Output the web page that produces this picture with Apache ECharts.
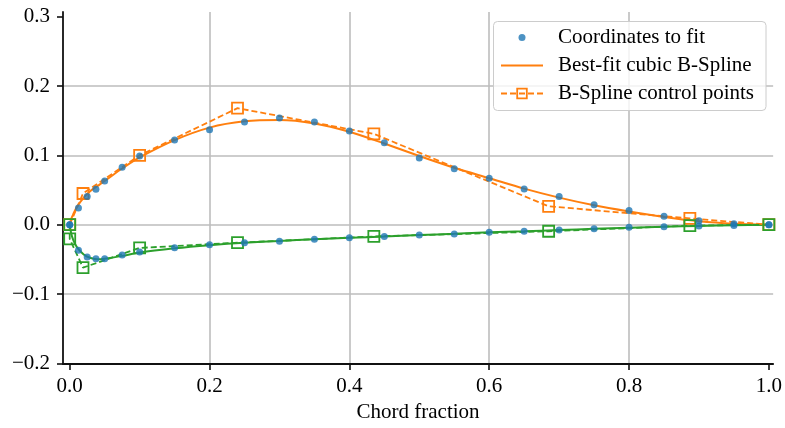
<!DOCTYPE html>
<html>
<head>
<meta charset="utf-8">
<script src="https://cdn.jsdelivr.net/npm/echarts@6/dist/echarts.min.js"></script>
<style>
  html, body { margin: 0; padding: 0; background: #ffffff; }
  #chart { width: 785px; height: 428px; }
</style>
</head>
<body>
<div id="chart"></div>
<script>
// Airfoil coordinates to fit (upper and lower surfaces share x stations)
const coordX = [0, 0.0125, 0.025, 0.0375, 0.05, 0.075, 0.1, 0.15, 0.2, 0.25, 0.3, 0.35, 0.4, 0.45, 0.5, 0.55, 0.6, 0.65, 0.7, 0.75, 0.8, 0.85, 0.9, 0.95, 1.0];
const coordUpperY = [0, 0.024, 0.0405, 0.051, 0.063, 0.083, 0.099, 0.122, 0.137, 0.148, 0.154, 0.148, 0.135, 0.118, 0.096, 0.0805, 0.067, 0.0514, 0.0405, 0.0286, 0.0206, 0.012, 0.0055, 0.0015, 0];
const coordLowerY = [0, -0.037, -0.0466, -0.049, -0.049, -0.0437, -0.0395, -0.0333, -0.029, -0.026, -0.0238, -0.021, -0.019, -0.017, -0.0147, -0.0133, -0.011, -0.0095, -0.0076, -0.0057, -0.0038, -0.0029, -0.002, -0.001, 0];

// Best-fit cubic B-spline curves
const splineX = [0, 0.002, 0.005, 0.01, 0.02, 0.03, 0.04, 0.05, 0.075, 0.1, 0.15, 0.2, 0.25, 0.3, 0.35, 0.4, 0.45, 0.5, 0.55, 0.6, 0.65, 0.7, 0.75, 0.8, 0.85, 0.9, 0.95, 1.0];
const splineUpperY = [0, 0.008, 0.015, 0.025, 0.039, 0.049, 0.056, 0.063, 0.081, 0.097, 0.122, 0.14, 0.149, 0.151, 0.146, 0.134, 0.117, 0.099, 0.082, 0.067, 0.052, 0.039, 0.028, 0.019, 0.011, 0.005, 0.0015, 0];
const splineLowerY = [0, -0.012, -0.022, -0.032, -0.043, -0.048, -0.05, -0.049, -0.045, -0.04, -0.034, -0.0295, -0.026, -0.0235, -0.021, -0.019, -0.017, -0.015, -0.013, -0.011, -0.0095, -0.0078, -0.006, -0.0043, -0.003, -0.0018, -0.0008, 0];

// B-spline control points
const ctrlUpperX = [0, 0.019, 0.1, 0.24, 0.435, 0.685, 0.887, 1.0];
const ctrlUpperY = [0, 0.045, 0.1, 0.168, 0.131, 0.0265, 0.009, 0];
const ctrlLowerX = [0, 0, 0.019, 0.1, 0.24, 0.435, 0.685, 0.887, 1.0];
const ctrlLowerY = [0, -0.0205, -0.062, -0.0335, -0.026, -0.017, -0.0095, -0.0014, 0];

// Axis ticks
const xTicks = [0, 0.2, 0.4, 0.6, 0.8, 1.0];
const yTicks = [-0.2, -0.1, 0, 0.1, 0.2, 0.3];

const seriesNames = ['Coordinates to fit', 'Best-fit cubic B-Spline', 'B-Spline control points'];
const xLabel = 'Chord fraction';

const zip = (xs, ys) => xs.map((x, i) => [x, ys[i]]);
const FONT = 'Liberation Serif';
const BLUE = '#1f77b4', ORANGE = '#ff7f0e', GREEN = '#2ca02c';
const fmt = v => (v < -1e-9 ? '\u2212' : '') + Math.abs(v).toFixed(1);

const chart = echarts.init(document.getElementById('chart'), null, { renderer: 'canvas' });

const axisCommon = {
  type: 'value',
  axisLine: { show: true, onZero: false, lineStyle: { color: '#111', width: 1.8 } },
  axisTick: { show: true, inside: false, length: 6, lineStyle: { color: '#111', width: 1.6 } },
  splitLine: { show: true, showMinLine: false, showMaxLine: false, lineStyle: { color: '#bdbdbd', width: 1.6 } },
};

chart.setOption({
  animation: false,
  backgroundColor: '#ffffff',
  grid: { left: 63, right: 11, top: 12, bottom: 61, containLabel: false },
  xAxis: Object.assign({}, axisCommon, {
    min: -0.0096, max: 1.0061,
    axisTick: Object.assign({}, axisCommon.axisTick, { customValues: xTicks }),
    axisLabel: { customValues: xTicks, formatter: fmt, margin: 12, color: '#000', fontFamily: FONT, fontSize: 21 },
    name: xLabel, nameLocation: 'middle', nameGap: 38,
    nameTextStyle: { color: '#000', fontFamily: FONT, fontSize: 21 },
  }),
  yAxis: Object.assign({}, axisCommon, {
    min: -0.2009, max: 0.3067,
    axisTick: Object.assign({}, axisCommon.axisTick, { customValues: yTicks }),
    axisLabel: { customValues: yTicks, formatter: fmt, margin: 13, color: '#000', fontFamily: FONT, fontSize: 21 },
  }),
  legend: {
    orient: 'vertical',
    left: 500, top: 27,
    padding: 0,
    itemWidth: 42, itemHeight: 12, itemGap: 7,
    selectedMode: false,
    textStyle: { color: '#000', fontFamily: FONT, fontSize: 21, padding: [0, 0, 0, 10] },
    data: [
      { name: seriesNames[0], icon: 'path://M0,0M12,12M2.5,6A3.5,3.5,0,1,0,9.5,6A3.5,3.5,0,1,0,2.5,6Z' },
      { name: seriesNames[1], itemStyle: { opacity: 0 } },
      { name: seriesNames[2], itemStyle: { color: 'rgba(0,0,0,0)', borderColor: ORANGE, borderWidth: 1.8 } },
    ],
  },
  graphic: [{
    type: 'rect', z: 3, silent: true,
    shape: { x: 493.5, y: 21.5, width: 272.5, height: 89, r: 4 },
    style: { fill: 'rgba(255,255,255,0.8)', stroke: '#cccccc', lineWidth: 1 },
  }],
  series: [
    {
      name: seriesNames[1], type: 'line', data: zip(splineX, splineUpperY),
      smooth: 0.3, symbol: 'none', z: 3,
      lineStyle: { color: ORANGE, width: 2 }, itemStyle: { color: ORANGE },
    },
    {
      name: 'lower spline', type: 'line', data: zip(splineX, splineLowerY),
      smooth: 0.3, symbol: 'none', z: 3,
      lineStyle: { color: GREEN, width: 2 }, itemStyle: { color: GREEN },
    },
    {
      name: seriesNames[2], type: 'line', data: zip(ctrlUpperX, ctrlUpperY),
      symbol: 'rect', symbolSize: 11, showSymbol: true, z: 3,
      lineStyle: { color: ORANGE, width: 1.8, type: [6, 3] },
      itemStyle: { color: 'rgba(0,0,0,0)', borderColor: ORANGE, borderWidth: 1.8 },
    },
    {
      name: 'lower control points', type: 'line', data: zip(ctrlLowerX, ctrlLowerY),
      symbol: 'rect', symbolSize: 11, showSymbol: true, z: 3,
      lineStyle: { color: GREEN, width: 1.8, type: [6, 3] },
      itemStyle: { color: 'rgba(0,0,0,0)', borderColor: GREEN, borderWidth: 1.8 },
    },
    {
      name: seriesNames[0], type: 'scatter',
      data: zip(coordX, coordUpperY).concat(zip(coordX, coordLowerY)),
      symbol: 'circle', symbolSize: 7, z: 4,
      itemStyle: { color: BLUE },
    },
  ],
});
</script>
</body>
</html>
